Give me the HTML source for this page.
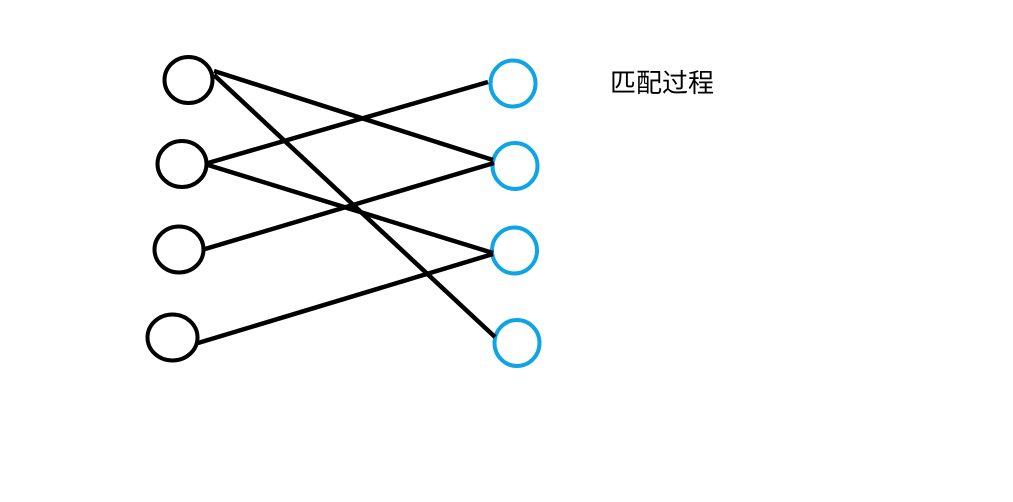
<!DOCTYPE html>
<html><head><meta charset="utf-8"><style>
html,body{margin:0;padding:0;background:#fff;width:1013px;height:502px;overflow:hidden}
svg{display:block}
</style></head><body>
<svg width="1013" height="502" viewBox="0 0 1013 502">
<g stroke="#000" stroke-width="4" fill="none">
<ellipse cx="188.5" cy="80" rx="24" ry="23"/>
<ellipse cx="182" cy="164" rx="24.5" ry="23"/>
<ellipse cx="179" cy="249.5" rx="24.5" ry="23"/>
<ellipse cx="172.5" cy="337.5" rx="25" ry="23"/>
</g>
<g stroke="#0ea4e6" stroke-width="4" fill="none">
<ellipse cx="513" cy="83.5" rx="22.5" ry="23"/>
<ellipse cx="515" cy="166" rx="22.5" ry="23"/>
<ellipse cx="514.5" cy="250.5" rx="22.5" ry="23"/>
<ellipse cx="517" cy="343" rx="22.5" ry="23"/>
</g>
<g stroke="#000" stroke-width="4.5">
<line x1="214" y1="71" x2="493" y2="160"/>
<line x1="214" y1="75" x2="495" y2="337"/>
<line x1="208" y1="163" x2="488" y2="82"/>
<line x1="208" y1="165" x2="493" y2="253"/>
<line x1="205" y1="249" x2="494" y2="163"/>
<line x1="198" y1="343" x2="493" y2="254"/>
</g>
<text x="610" y="92" font-family="'Liberation Sans','Noto Sans CJK SC',sans-serif" font-size="26" fill="#000">匹配过程</text>
</svg>
</body></html>
